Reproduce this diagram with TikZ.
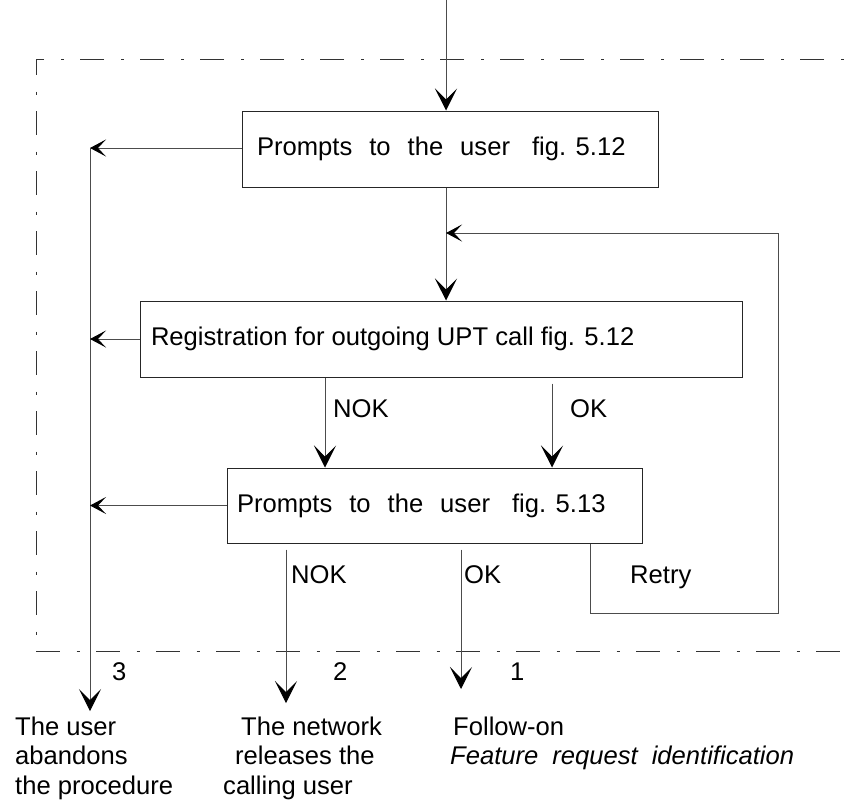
\documentclass[tikz,border=0pt]{standalone}
\usepackage{fontspec}
\setmainfont{Liberation Sans}
\usetikzlibrary{arrows.meta}
\begin{document}
\begin{tikzpicture}[x=1pt,y=-1pt,
  every node/.style={font=\fontsize{25.6}{29.5}\selectfont, inner sep=0pt},
  box/.style={draw=black!85, line width=1pt, minimum height=76pt, inner ysep=0pt},
  conn/.style={draw=black!70, line width=1pt},
  varrow/.style={conn, -{Stealth[length=22pt,width=22pt,inset=11pt,color=black]}},
  harrow/.style={conn, -{Stealth[length=16pt,width=17pt,inset=8pt,color=black]}},
  frame/.style={draw=black!80, line width=1pt, dash pattern=on 24pt off 16.5pt on 3pt off 16.5pt, dash phase=39pt},
  lbl/.style={anchor=base west}]
\useasboundingbox (0,0) rectangle (845,801);

% frame
\draw[frame] (845,59) -- (36,59) -- (36,651) -- (845,651);

% boxes
\node[box, inner xsep=15pt] (b1) at (450,149)
  {\makebox[386pt][l]{Prompts\hspace{17pt}to\hspace{17pt}the\hspace{17pt}user\hspace{22pt}fig. 5.12}};
\node[box, inner xsep=11pt] (b2) at (441,339)
  {\makebox[580pt][l]{Registration for outgoing UPT call fig. 5.12}};
\node[box, inner xsep=10pt, minimum height=75pt] (b3) at (434.5,505.5)
  {\makebox[395pt][l]{Prompts\hspace{17pt}to\hspace{17pt}the\hspace{17pt}user\hspace{22pt}fig. 5.13}};

% coordinates
\coordinate (in) at (446,0);
\coordinate (j) at (446,233);
\coordinate (fb) at (778,613);
\coordinate (rt) at (590,0);
\coordinate (l3) at (90,148);
\coordinate (e3) at (90,711);
\coordinate (n1) at (325,0);
\coordinate (o1) at (552,0);
\coordinate (e2) at (286,703);
\coordinate (e1) at (461,689);

% connectors
\draw[varrow] (in) -- (in |- b1.north);
\draw[varrow] (in |- b1.south) -- (in |- b2.north);
\draw[harrow] (b1.west |- l3) -- (l3);
\draw[varrow] (l3) -- (e3);
\draw[harrow] (b2.west) -- (b2.west -| l3);
\draw[harrow] (b3.west) -- (b3.west -| l3);
\draw[varrow] (n1 |- b2.south) -- (n1 |- b3.north);
\draw[varrow, shorten <=6pt] (o1 |- b2.south) -- (o1 |- b3.north);
\draw[harrow] (rt |- b3.south) |- (fb) |- (j);
\draw[varrow, shorten <=6pt] (e2 |- b3.south) -- (e2);
\draw[varrow, shorten <=6pt] (e1 |- b3.south) -- (e1);

% labels
\node[lbl] (nokA) at (333,417) {NOK};
\node[lbl] (okA) at (570,417) {OK};
\node[lbl] (nokB) at (291,583) {NOK};
\node[lbl] (okB) at (464,583) {OK};
\node[lbl] (retry) at (630,583) {Retry};
\node[lbl] (d3) at (112,680) {3};
\node[lbl] (d2) at (333,680) {2};
\node[lbl] (d1) at (510,680) {1};

% outcomes
\node[lbl] (t3) at (15,735)
  {\begin{tabular}[t]{@{}l@{}}The user\\abandons\\the procedure\end{tabular}};
\node[lbl] (t2) at (223,735)
  {\begin{tabular}[t]{@{}l@{}}\hspace*{18pt}The network\\\hspace*{12pt}releases the\\calling user\end{tabular}};
\node[lbl] (t1) at (450,735)
  {\begin{tabular}[t]{@{}l@{}}\hspace*{3pt}Follow-on\\\itshape Feature\hspace{14pt}request\hspace{14pt}identification\end{tabular}};
\end{tikzpicture}
\end{document}
